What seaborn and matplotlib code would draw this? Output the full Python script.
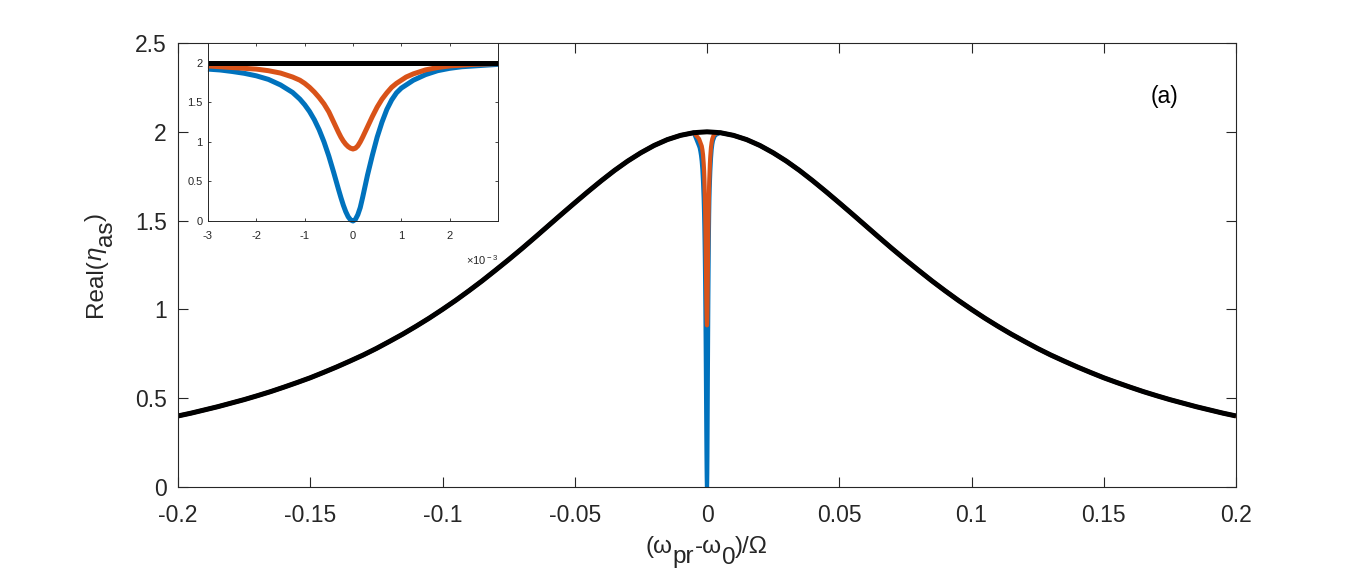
import numpy as np
import pandas as pd
import matplotlib
matplotlib.use("Agg")
import matplotlib.pyplot as plt
import seaborn as sns

# ---------------- data ----------------
# main curve (black), x in units of Omega
x_main = [-0.200, -0.195, -0.190, -0.185, -0.180, -0.175, -0.170, -0.165, -0.160, -0.155,
          -0.150, -0.145, -0.140, -0.135, -0.130, -0.125, -0.120, -0.115, -0.110, -0.105,
          -0.100, -0.095, -0.090, -0.085, -0.080, -0.075, -0.070, -0.065, -0.060, -0.055,
          -0.050, -0.045, -0.040, -0.035, -0.030, -0.025, -0.020, -0.015, -0.010, -0.005,
          0.000,
          0.005, 0.010, 0.015, 0.020, 0.025, 0.030, 0.035, 0.040, 0.045, 0.050,
          0.055, 0.060, 0.065, 0.070, 0.075, 0.080, 0.085, 0.090, 0.095, 0.100,
          0.105, 0.110, 0.115, 0.120, 0.125, 0.130, 0.135, 0.140, 0.145, 0.150,
          0.155, 0.160, 0.165, 0.170, 0.175, 0.180, 0.185, 0.190, 0.195, 0.200]
black_main = [0.400, 0.416, 0.434, 0.452, 0.472, 0.492, 0.514, 0.537, 0.562, 0.588,
              0.615, 0.645, 0.676, 0.709, 0.743, 0.780, 0.820, 0.861, 0.905, 0.951,
              1.000, 1.051, 1.105, 1.161, 1.220, 1.280, 1.342, 1.406, 1.471, 1.536,
              1.600, 1.663, 1.724, 1.782, 1.835, 1.882, 1.923, 1.956, 1.980, 1.995,
              2.000,
              1.995, 1.980, 1.956, 1.923, 1.882, 1.835, 1.782, 1.724, 1.663, 1.600,
              1.536, 1.471, 1.406, 1.342, 1.280, 1.220, 1.161, 1.105, 1.051, 1.000,
              0.951, 0.905, 0.861, 0.820, 0.780, 0.743, 0.709, 0.676, 0.645, 0.615,
              0.588, 0.562, 0.537, 0.514, 0.492, 0.472, 0.452, 0.434, 0.416, 0.400]

# dip region (inset), x in units of 1e-3
x_dip = [-3, -2.75, -2.5, -2.25, -2, -1.75, -1.5, -1.25, -1.1, -1, -0.9, -0.8, -0.7, -0.6,
         -0.5, -0.4, -0.3, -0.25, -0.2, -0.15, -0.1, -0.05, 0,
         0.05, 0.1, 0.15, 0.2, 0.25, 0.3, 0.4, 0.5, 0.6, 0.7, 0.8, 0.9, 1, 1.1,
         1.25, 1.5, 1.75, 2, 2.25, 2.5, 2.75, 3]
blue_dip = [1.92, 1.909, 1.89, 1.867, 1.835, 1.79, 1.72, 1.625, 1.541, 1.47, 1.385, 1.28, 1.153, 1.00,
            0.82, 0.615, 0.40, 0.296, 0.20, 0.118, 0.054, 0.014, 0.0,
            0.02, 0.08, 0.17, 0.30, 0.44, 0.58, 0.83, 1.06, 1.25, 1.41, 1.53, 1.62, 1.68, 1.72,
            1.78, 1.85, 1.90, 1.93, 1.95, 1.96, 1.97, 1.98]
orange_dip = [1.96, 1.95, 1.94, 1.93, 1.92, 1.90, 1.87, 1.82, 1.78, 1.74, 1.69, 1.63, 1.56, 1.48,
              1.38, 1.25, 1.12, 1.06, 1.01, 0.97, 0.94, 0.92, 0.91,
              0.92, 0.95, 1.00, 1.06, 1.125, 1.19, 1.32, 1.44, 1.54, 1.62, 1.69, 1.74, 1.78, 1.82,
              1.86, 1.91, 1.94, 1.96, 1.97, 1.98, 1.985, 1.99]
black_dip = [2.0] * len(x_dip)

x_ticks_main = [-0.2, -0.15, -0.1, -0.05, 0, 0.05, 0.1, 0.15, 0.2]
x_ticklabels_main = ["-0.2", "-0.15", "-0.1", "-0.05", "0", "0.05", "0.1", "0.15", "0.2"]
y_ticks_main = [0, 0.5, 1, 1.5, 2, 2.5]
y_ticklabels_main = ["0", "0.5", "1", "1.5", "2", "2.5"]
x_ticks_in = [-3, -2, -1, 0, 1, 2]
y_ticks_in = [0, 0.5, 1, 1.5, 2]
y_ticklabels_in = ["0", "0.5", "1", "1.5", "2"]

BLUE = "#0072BD"
ORANGE = "#D95319"
BLACK = "#000000"
AX = "#262626"
W, H = 1366, 580

# ---------------- style ----------------
sns.set_style("ticks")
plt.rcParams["font.family"] = ["Liberation Sans", "DejaVu Sans"]
plt.rcParams["mathtext.fontset"] = "custom"
plt.rcParams["mathtext.rm"] = "Liberation Sans"
plt.rcParams["mathtext.it"] = "Liberation Sans:italic"
plt.rcParams["mathtext.sf"] = "Liberation Sans"
plt.rcParams["xtick.direction"] = "in"
plt.rcParams["ytick.direction"] = "in"

fig = plt.figure(figsize=(W / 100, H / 100), dpi=100)
ax = fig.add_axes([178 / W, 1 - 487 / H, 1058 / W, 444 / H])

# build main-axis series for dip curves
xd_scaled = [v * 1e-3 for v in x_dip]
outer_left = [(x, y) for x, y in zip(x_main, black_main) if x < -0.004]
outer_right = [(x, y) for x, y in zip(x_main, black_main) if x > 0.004]


def main_series(dip_vals):
    xs = [p[0] for p in outer_left] + xd_scaled + [p[0] for p in outer_right]
    ys = [p[1] for p in outer_left] + list(dip_vals) + [p[1] for p in outer_right]
    return pd.DataFrame({"x": xs, "y": ys})


lw_main = 3.6
df_b = main_series(blue_dip)
df_o = main_series(orange_dip)
df_k = pd.DataFrame({"x": x_main, "y": black_main})
sns.lineplot(data=df_b, x="x", y="y", ax=ax, color=BLUE, lw=3.0, estimator=None, sort=False)
sns.lineplot(data=df_o, x="x", y="y", ax=ax, color=ORANGE, lw=3.0, estimator=None, sort=False)
sns.lineplot(data=df_k, x="x", y="y", ax=ax, color=BLACK, lw=lw_main, estimator=None, sort=False,
             solid_joinstyle="round", solid_capstyle="butt")

ax.set_xlim(-0.2, 0.2)
ax.set_ylim(0, 2.5)
ax.set_xticks(x_ticks_main)
ax.set_xticklabels(x_ticklabels_main)
ax.set_yticks(y_ticks_main)
ax.set_yticklabels(y_ticklabels_main)
ax.tick_params(axis="both", labelsize=16.5, colors=AX, length=7, width=0.8,
               top=True, right=True)
ax.tick_params(axis="x", pad=12)
ax.tick_params(axis="y", pad=8)
for s in ax.spines.values():
    s.set_visible(True)
    s.set_color(AX)
    s.set_linewidth(0.8)
ax.set_xlabel("")
ax.set_ylabel("")
ax.text(0.173, 2.196, "(a)", fontsize=16.5, color=BLACK, ha="center", va="center")

# ---------------- labels with full-size subscripts (MATLAB tex style) ----------------
renderer = fig.canvas.get_renderer()


def draw_pieces(pieces, cx, cy, rotation=0, size=17.5, color=AX):
    """pieces: list of (string, drop_px, style). cx, cy: pixel center (cy from top), baseline."""
    widths = []
    for s, _, st in pieces:
        t = fig.text(0, 0, s, fontsize=size, fontstyle=st)
        widths.append(t.get_window_extent(renderer).width)
        t.remove()
    total = sum(widths)
    pos = -total / 2.0
    for (s, drop, st), wdt in zip(pieces, widths):
        if rotation == 0:
            px = cx + pos
            py = cy + drop
        else:
            px = cx + drop
            py = cy - pos
        fig.text(px / W, 1 - py / H, s, fontsize=size, color=color, ha="left", fontstyle=st,
                 va="baseline", rotation=rotation, rotation_mode="anchor")
        pos += wdt


draw_pieces([("(\u03c9", 0, "normal"), ("pr", 10, "normal"), ("-\u03c9", 0, "normal"),
             ("0", 11, "normal"), (")/\u03a9", 0, "normal")],
            707, 553, rotation=0, size=17.5)
draw_pieces([("Real(", 0, "normal"), ("\u03b7", 0, "italic"), ("as", 10, "normal"),
             (")", 0, "normal")],
            102, 265, rotation=90, size=17.5)

# ---------------- inset ----------------
axi = fig.add_axes([208 / W, 1 - 221 / H, 290 / W, 178 / H])
lw_in = 3.6
df_bi = pd.DataFrame({"x": x_dip, "y": blue_dip})
df_oi = pd.DataFrame({"x": x_dip, "y": orange_dip})
df_ki = pd.DataFrame({"x": x_dip, "y": black_dip})
for d, c in [(df_bi, BLUE), (df_oi, ORANGE), (df_ki, BLACK)]:
    sns.lineplot(data=d, x="x", y="y", ax=axi, color=c, lw=lw_in, estimator=None,
                 sort=False, clip_on=False, solid_joinstyle="round", solid_capstyle="butt")
axi.set_xlim(-3, 3)
axi.set_ylim(0, 2.25)
axi.set_xticks(x_ticks_in)
axi.set_xticklabels([str(v) for v in x_ticks_in])
axi.set_yticks(y_ticks_in)
axi.set_yticklabels(y_ticklabels_in)
axi.tick_params(axis="both", labelsize=8, colors=AX, length=2.5, width=0.6,
                top=True, right=True)
axi.tick_params(axis="x", pad=7)
axi.tick_params(axis="y", pad=4)
for s in axi.spines.values():
    s.set_visible(True)
    s.set_color(AX)
    s.set_linewidth(0.7)
axi.set_xlabel("")
axi.set_ylabel("")
axi.text(1.0, -0.18, r"$\times$10$^{\rm -3}$", transform=axi.transAxes, fontsize=8,
         color=AX, ha="right", va="top")

fig.savefig("out.png", dpi=100)
